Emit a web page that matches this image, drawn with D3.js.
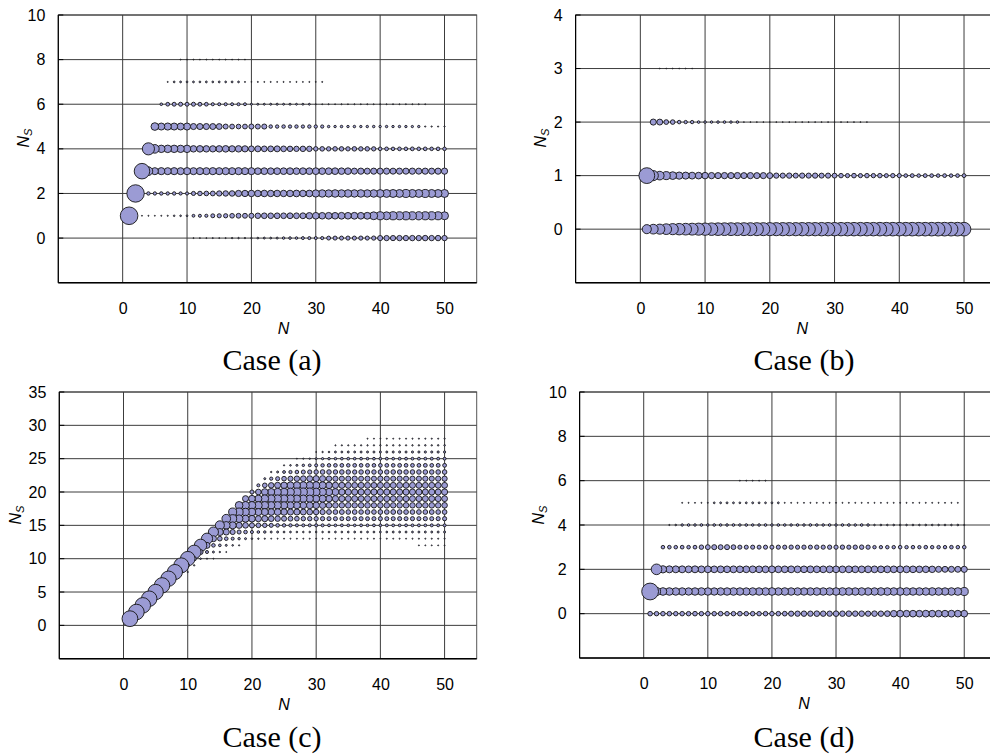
<!DOCTYPE html>
<html>
<head>
<meta charset="utf-8">
<title>Ns bubble charts</title>
<script src="https://cdnjs.cloudflare.com/ajax/libs/d3/7.8.5/d3.min.js"></script>
<style>
  body { margin: 0; background: #fff; }
  .tick text { font-family: Arial, 'Liberation Sans', sans-serif; font-size: 16px; fill: #000; }
  .axis-title { font-family: Arial, 'Liberation Sans', sans-serif; font-size: 16px; fill: #000; }
  .case-label { font-family: 'Times New Roman', 'Liberation Serif', serif; font-size: 30px; fill: #000; }
</style>
</head>
<body>
<div id="chart"></div>
<script>
// ---- data: bubble size (relative, 100 = largest bubble of the panel) ----
// rows: [Ns, first N, sizes for N = first N, first N + 1, ...]
const rowsA = [
  [0, 11, [0.3,0.3,0.3,0.35,0.3,0.35, 0.6,0.65,0.6,0.7, 1.0,1.2,1.1,1.3, 2.0,2.2,2.1, 2.8,3.0,2.9,3.2, 5,5.3,5.2,5.5,5.3,5.6,5.4,5.8, 8.5,9,8.8,9.2,9,9.4,9.2,9.6,9.3,9.5,9.2]],
  [1, 1, [100, 0.3,0.3,0.35,0.3,0.35,0.4, 0.8,0.9,1.0, 2.6,3.0,3.2, 5.0,5.5,5.8, 7.0,7.5,7.8,8.3, 9.8,10.4,10.2,10.6,10.4,11,10.8,11.2, 13.5,14.4,14,14.6,14.2,14.8,14.4,15,14.6,15.2, 20,21,20.5,21.5,21,21.8,21.2,22,21.4,21.8,21,20.5]],
  [2, 2, [98, 3.6,3.8,3.6,3.8,3.6,3.8,3.4,3.2, 5.5,6.5,7,7.5, 9,9.6,10, 12.5,13,13.5,13.5,14,13.5,14,13.5,14,14.5,14,14.5, 17,18,17.5,18.5,18,18.5,18,18.5,18,18.5, 19.5,20,20.5,20,21,20.5,20,21,20.5,20,20.5]],
  [3, 3, [78, 24, 16,16.5,16,16.5,16,16.5,16,16.2,16,16.5,16,16.3,16,16.5,16,16, 14.4,14.8,14.2,14.6,14.4,14.8,14.2,14.6,14.4,14.8,14.2,14.6,14.4,14,14.2, 12,12.5,11.8,12.2,12,12.4,11.8,12.2,12,12.5,11.8,12.2,12,12.3,12.5]],
  [4, 4, [47.5, 24, 18,18.5,18,17.5,18, 13.5,14,13.5,13,13.5,14,13,13.5,12.5, 11,11.5,10.5,11,11.5,10.5, 9.6,9.2,9.8,9.4, 6.4,6.8,6.2,6.6,6.4,6,6.6,6.2,6.4,6, 4.3,4.5,4.1,4.4,4.2,4.6,4.2,4.4,4.1,4.3,4.2]],
  [5, 5, [19, 16,16.5,16,15.5,16, 12,11.9,12,11.5,11, 8,7.5,7,7.5, 8.3,8,8.3, 4,3.8,4,3.6,3.8,3.5,3.8,3.6,3.4, 2,1.9,2.1,1.9,2,1.8,1.9,2,1.8,1.9,1.8,1.9,1.8,1.7,1.8, 0.5,0.5,0.45,0.5]],
  [6, 6, [2.2, 4.5,5,5.3,5,5.3,4.8,4.5, 3.2,3,3.2,2.8,3,2.8, 1.4,1.3,1.2,1.3,1.4,1.2,1.3,1.1,1.2,1.1, 0.35,0.3,0.35,0.3,0.35,0.3,0.35,0.3,0.35,0.3,0.35,0.3,0.35,0.3,0.35,0.3,0.35,0.3]],
  [7, 7, [0.35, 1,1.1,1,1.1,1,1.1,1,1.1,1,1.1,1, 0.35,0.3,0.35,0.3,0.35,0.3,0.35,0.3,0.35,0.3,0.35,0.3,0.35]],
  [8, 9, [0.3,0.3,0.3,0.3,0.3,0.3,0.3,0.3,0.3,0.3,0.3]]
];

const rowsB = [
  [0, 1, [33,38,41,46,50,53,55,57,59,61, 63,64,65,66,66,67,67,68,68,69, 69,70,70,70,71,71,71,72,72,72, 72,73,73,73,73,73,74,74,74,74, 74,74,74,74,74,75,75,75,75,75]],
  [1, 1, [100,41,30,26,24,21,20,19,18,17, 16,15,16,15,16,14.5,15.5,14.5,15,14, 11,10.5,11.5,10,11,10.5,11,10,10.5,9.5, 8,7,8.5,7,8,7.5,8,6.5,7.5,7, 5.5,6,5,6,5.5,5,5.8,5,5.5,6]],
  [2, 2, [15,14,9,8.5,5,4.5,4.5, 2.8,2.6,2.4,2.6,2.8,2.4,2.6, 0.3,0.3,0.3,0.3,0.3,0.3,0.3,0.3,0.3,0.3,0.3,0.3,0.3,0.3,0.3,0.3,0.3,0.3,0.3,0.3]],
  [3, 3, [0.3,0.3,0.3,0.3,0.3,0.3]]
];

const rowsD = [
  [0, 1, [7.5,7,7.2,7.4,7,7.3,7.2,7.5,7,7.3, 7.1,7.4,7,7.2,7.5,7,7.3,7.1,7.4,7.2, 7.5,7.8, 9.5,10,10.5,10,11,10.5,10,11,10.5,11,10.5,11,10,11,10.5,11.5, 15,16,15.5,16,15.5,16.5,16,15.5,16,16.5,16,16]],
  [1, 1, [100,23,21,20.5,20,20,19.5,20,20.5,20, 19.5,20,20,20.5,20,19.5,20,20,20.5,21, 20,20.5,20,20,19.5,20,20.5,20,20,20.5, 21,20.5,20,20.5,20,20,21,20.5,20.5,21, 20.5,20,20.5,20,21,20.5,20,20.5,21,23]],
  [2, 2, [40,19,17.5,17,17,16.5,17,16.5,16.5, 16,16.5,16,16.5,16,16,16.5,16,16,16.5, 16,16,16.5,16,16,16.5,16,16,16.5,16, 16,16.5,16,16,16.5,16,16,16.5,16,16, 16.5,16,15.5,15.5,15,13,12.5,13,12.5,13.5]],
  [3, 3, [4.5,4.7,4.5,4.8,4.6,5, 7,8.5,9,8.5,9,8, 6,5.8,6,5.6,6,5.8,6.2,6,6.5,6.2,6.5,6,6.8,6.2,6.6,6.4,6.8,6.2,6.6,7,6.5, 4.2,4,4.4,4.2,4.6,4.2,4.4,4,4.6,4.2,4.4,4.2,4.6,4.4,4.6]],
  [4, 4, [0.5,0.9, 2.0,2.3,2.2,2.5,2.1,2.4,2.2,2.3,2.5,2.2, 2.4,2.1,2.3,2.5,2.2,2.4,2.3,2.1,2.4,2.2, 2.5,2.3,2.2,2.4,2.1,2.3,2.5,2.2,2.4,2.2, 0.9,1,0.9,1,0.9,0.9,1,0.9,1,0.9,0.9,1,0.9,1, 0.5]],
  [5, 6, [0.36,0.36,0.36,0.36,0.36, 1.1,1.2,1.3,1.2,1.1,1.2,1.3,1.2,1.1,1.2,1.2, 0.36,0.36,0.36,0.36,0.36,0.36,0.36,0.36,0.36,0.36,0.36,0.36,0.36,0.36,0.36,0.36,0.36,0.36,0.36,0.36,0.36,0.36,0.36,0.36,0.36,0.36,0.36,0.36]],
  [6, 15, [0.36,0.36,0.36,0.36,0.36]]
];

// columns: [N, lowest Ns, sizes for Ns = lowest Ns, lowest Ns + 1, ...]
const colsC = [
  [1,1,[100]], [2,2,[98]], [3,3,[97]], [4,4,[96]], [5,5,[95]], [6,6,[95]], [7,7,[94]],
  [8,7,[1.6,92]], [9,8,[2.4,90]], [10,8,[0.6,5.3,85]], [11,9,[0.8,7.9,76]],
  [12,10,[1.05,10.3,62]], [13,10,[0.6,3.7,14.8,50]],
  [14,10,[0.4,1.6,5.3,14.8,41]],
  [15,11,[0.8,2.8,8.7,20,33]],
  [16,11,[0.4,1.6,5.3,14.8,23.7,30]],
  [17,12,[1.05,3.7,10.3,20,26,26]],
  [18,12,[0.6,2.4,6.6,14.8,23.7,26,23.7]],
  [19,13,[1.6,5.3,12.9,20,23.7,23.7,14.8]],
  [20,13,[1.05,3.7,10.3,17.9,23.7,23.7,17.9,6.6]],
  [21,13,[0.8,2.8,8.7,14.8,20,23.7,20,12.9,3.7]],
  [22,13,[0.6,2.4,7.9,14.8,20,23.7,23.7,17.9,8.7,1.6]],
  [23,13,[0.4,1.6,6.6,12.9,17.9,22.4,23.7,20,12,4.2,0.8]],
  [24,13,[0.4,1.6,5.3,12,17.9,22.4,23.7,22.4,14.8,6.6,1.6]],
  [25,13,[0.4,1.3,4.7,10.3,16.8,21.3,23.7,23.7,16.8,8.7,3.2,0.6]],
  [26,13,[0.4,1.3,4.2,9.4,14.8,20,23.7,25,19,10.3,4.2,1.05]],
  [27,13,[0.4,1.05,3.7,8.7,14.8,19,22.4,26,20,12,5.3,1.6,0.4]],
  [28,13,[0.4,1.05,3.7,7.9,13.8,17.9,22.4,26,21.3,12.9,6.6,2.4,0.6]],
  [29,13,[0.4,1.05,3.7,7.9,12.9,17.9,21.3,26,21.3,13.8,7.2,3.2,0.8]],
  [30,13,[0.4,1.05,3.7,7.2,12,16.8,20,25,21.3,14.8,7.9,3.7,1.6,0.4]],
  [31,13,[0.4,1.05,3.7,7.2,11,15.8,20,23.7,20,14.8,8.7,4.7,2.0,0.8]],
  [32,13,[0.4,1.2,3.2,6.6,9.5,13,17,21,17,12,8.5,5,2.4,1.0]],
  [33,13,[0.4,1.3,3.0,6.6,9,12.5,15.5,19,15.5,11,8,5.3,2.6,1.5,0.5]],
  [34,13,[0.4,1.2,3.2,6.2,9.5,12,14.5,16,14.5,10.5,8.5,5.5,2.8,1.4,0.6]],
  [35,13,[0.4,1.3,3.0,6.8,8.7,12.5,13.8,15.5,14,10.5,8,5,3,1.6,0.6]],
  [36,13,[0.4,1.4,2.8,6.4,9,11.5,14.5,14.8,13.5,11,7.5,5.5,2.8,1.5,0.7]],
  [37,13,[0.4,1.2,3.2,6.6,8.5,12,13.5,15,14,10,8.2,5.3,3,1.6,0.7]],
  [38,13,[0.4,1.3,3.0,6.2,9,12.5,14,14.5,13.8,10.5,7.9,5.5,2.8,1.6,0.7,0.4]],
  [39,13,[0.45,1.3,3.2,6.6,8.7,11.5,13.8,15,13.5,10.3,8,5.3,2.9,1.6,0.7,0.4]],
  [40,13,[0.4,1.4,3.0,6.8,9,12,13.5,14.8,14,11,8.2,5.5,3,1.7,0.8,0.4]],
  [41,13,[0.45,1.3,3.4,6.4,8.7,12.5,14,14.5,13.5,10.5,7.9,5.6,3.2,1.6,0.7,0.45]],
  [42,13,[0.4,1.5,3.2,6.6,9.2,11.8,13.8,15,14,10.3,8.4,5.3,3,1.7,0.8,0.4]],
  [43,13,[0.45,1.4,3.0,6.8,8.7,12,13.5,14.5,13.8,10.8,8,5.8,3.2,1.8,0.8,0.45]],
  [44,13,[0.4,1.5,3.3,6.4,9,12.3,14,15,13.5,10.5,8.2,5.5,3.3,1.7,0.7,0.45]],
  [45,13,[0.45,1.4,3.2,6.8,8.8,11.8,13.8,14.5,14,10.8,8.5,5.7,3.1,1.8,0.8,0.5]],
  [46,12,[0.4,0.5,1.5,3.4,6.6,9,12.2,13.5,15,13.8,10.5,8.2,5.6,3.3,1.8,0.8,0.5]],
  [47,12,[0.4,0.45,1.6,3.2,7,8.8,12,14,14.5,13.5,11,8.5,5.8,3.2,1.9,0.9,0.5]],
  [48,12,[0.4,0.5,1.5,3.5,6.6,9.2,12.5,13.8,15,14,10.5,8.3,5.5,3.4,1.8,0.8,0.5]],
  [49,12,[0.4,0.5,1.6,3.3,6.8,8.8,12,14,14.5,13.5,10.8,8.6,5.8,3.3,1.9,0.9,0.5]],
  [50,12,[0.4,0.55,1.7,3.6,7,9,12.4,13.6,15,13.8,11,8.5,6,3.5,2,1,0.6]]
];

const xTicks = [0, 10, 20, 30, 40, 50];
const yTicksA = [0, 2, 4, 6, 8, 10];
const yTicksB = [0, 1, 2, 3, 4];
const yTicksC = [0, 5, 10, 15, 20, 25, 30, 35];
const yTicksD = [0, 2, 4, 6, 8, 10];
const caseNames = ['Case (a)', 'Case (b)', 'Case (c)', 'Case (d)'];

// ---- flatten into points ----
function fromRows(rows) {
  const pts = [];
  rows.forEach(([ns, n0, vals]) => vals.forEach((v, i) => pts.push({n: n0 + i, ns: ns, v: v})));
  return pts;
}
function fromCols(cols) {
  const pts = [];
  cols.forEach(([n, ns0, vals]) => vals.forEach((v, i) => pts.push({n: n, ns: ns0 + i, v: v})));
  return pts;
}

const panels = [
  {pts: fromRows(rowsA), left: 58.3, top: 15, w: 418.4, h: 267.7, yDom: [-2, 10], yTicks: yTicksA, rMax: 8.8,
   nsPos: [23, 138], casePos: [272, 370]},
  {pts: fromRows(rowsB), left: 575.6, top: 15, w: 420.8, h: 267.7, yDom: [-1, 4], yTicks: yTicksB, rMax: 7.9,
   nsPos: [540, 138], casePos: [804, 370]},
  {pts: fromCols(colsC), left: 59.3, top: 392, w: 417.4, h: 266.7, yDom: [-5, 35], yTicks: yTicksC, rMax: 7.9,
   nsPos: [15, 515], casePos: [272, 747]},
  {pts: fromRows(rowsD), left: 579.6, top: 392, w: 416.7, h: 266, yDom: [-2, 10], yTicks: yTicksD, rMax: 8.4,
   nsPos: [538, 515], casePos: [804, 747]}
];

const svg = d3.select('#chart').append('svg')
  .attr('width', 990)
  .attr('height', 754);

panels.forEach((p, k) => {
  const x = d3.scaleLinear().domain([-10, 55]).range([p.left, p.left + p.w]);
  const y = d3.scaleLinear().domain(p.yDom).range([p.top + p.h, p.top]);
  const r = d3.scaleSqrt().domain([0, 100]).range([0, p.rMax]);
  const g = svg.append('g');

  // plot area border
  g.append('rect')
    .attr('x', p.left).attr('y', p.top)
    .attr('width', p.w).attr('height', p.h)
    .attr('fill', 'none').attr('stroke', '#555').attr('stroke-width', 1);

  // gridlines
  g.selectAll('.vgrid').data(xTicks).enter().append('line')
    .attr('x1', d => x(d)).attr('x2', d => x(d))
    .attr('y1', p.top).attr('y2', p.top + p.h)
    .attr('stroke', '#3c3c3c').attr('stroke-width', 1);
  g.selectAll('.hgrid').data(p.yTicks).enter().append('line')
    .attr('x1', p.left).attr('x2', p.left + p.w)
    .attr('y1', d => y(d)).attr('y2', d => y(d))
    .attr('stroke', '#3c3c3c').attr('stroke-width', 1);

  // axis lines (left and bottom)
  g.append('line')
    .attr('x1', p.left).attr('x2', p.left)
    .attr('y1', p.top).attr('y2', p.top + p.h)
    .attr('stroke', '#000').attr('stroke-width', 1.2);
  g.append('line')
    .attr('x1', p.left).attr('x2', p.left + p.w)
    .attr('y1', p.top + p.h).attr('y2', p.top + p.h)
    .attr('stroke', '#000').attr('stroke-width', 1.4);
  // short inner ticks on the y axis
  g.selectAll('.ytick').data(p.yTicks).enter().append('line')
    .attr('x1', p.left).attr('x2', p.left + 5)
    .attr('y1', d => y(d)).attr('y2', d => y(d))
    .attr('stroke', '#000').attr('stroke-width', 1);

  // tick labels
  const xa = g.append('g')
    .attr('transform', 'translate(0,' + (p.top + p.h) + ')')
    .call(d3.axisBottom(x).tickValues(xTicks).tickFormat(d3.format('d')).tickSize(0).tickPadding(20));
  xa.select('.domain').remove();
  const ya = g.append('g')
    .attr('transform', 'translate(' + p.left + ',0)')
    .call(d3.axisLeft(y).tickValues(p.yTicks).tickFormat(d3.format('d')).tickSize(0).tickPadding(13));
  ya.select('.domain').remove();

  // bubbles: higher N drawn first so lower N sits on top
  const pts = p.pts.slice().sort((a, b) => b.n - a.n || b.ns - a.ns);
  g.append('g').selectAll('circle').data(pts).enter().append('circle')
    .attr('cx', d => x(d.n))
    .attr('cy', d => y(d.ns))
    .attr('r', d => r(d.v))
    .attr('fill', '#9b9bd4')
    .attr('stroke', '#141414')
    .attr('stroke-width', 0.9);

  // axis titles
  g.append('text')
    .attr('class', 'axis-title')
    .attr('x', x(25)).attr('y', p.top + p.h + 51)
    .attr('text-anchor', 'middle')
    .attr('font-style', 'italic')
    .text('N');
  const ns = g.append('text')
    .attr('class', 'axis-title')
    .attr('transform', 'translate(' + p.nsPos[0] + ',' + p.nsPos[1] + ') rotate(-90)')
    .attr('text-anchor', 'middle')
    .attr('dy', '0.35em');
  ns.append('tspan').attr('font-style', 'italic').text('N');
  ns.append('tspan').attr('font-size', '11px').attr('font-style', 'italic').attr('dy', '3').text('S');

  // case caption
  g.append('text')
    .attr('class', 'case-label')
    .attr('x', p.casePos[0]).attr('y', p.casePos[1])
    .attr('text-anchor', 'middle')
    .text(caseNames[k]);
});
</script>
</body>
</html>
